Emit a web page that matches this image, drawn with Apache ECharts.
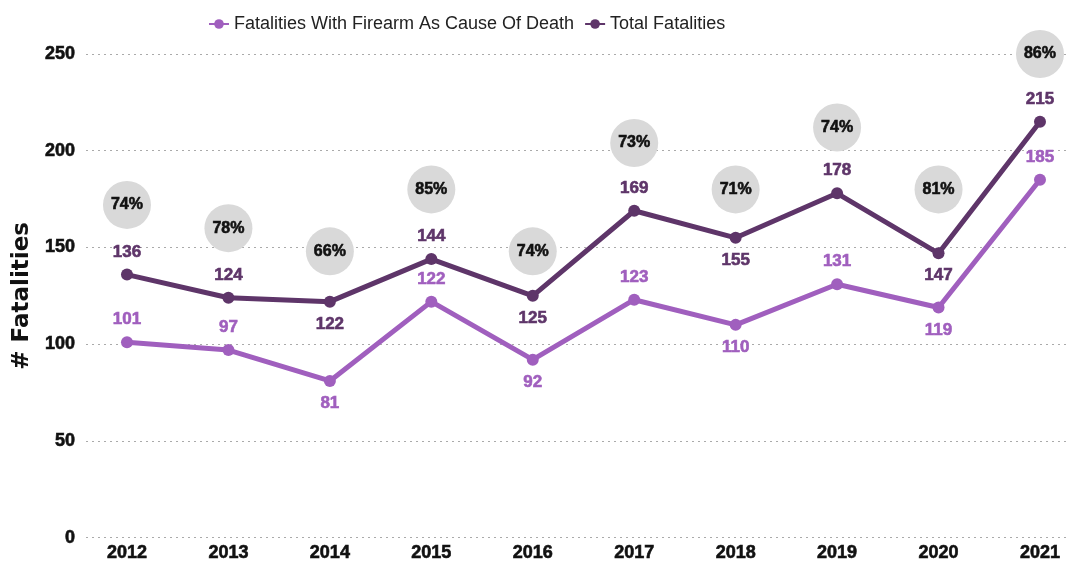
<!DOCTYPE html>
<html><head><meta charset="utf-8">
<script src="https://cdn.jsdelivr.net/npm/echarts@6/dist/echarts.min.js"></script>
<style>html,body{margin:0;padding:0;background:#fff}#c{width:1069px;height:562px}</style>
</head><body><div id="c"></div>
<script>
const years = [2012,2013,2014,2015,2016,2017,2018,2019,2020,2021];
const firearm = [101,97,81,122,92,123,110,131,119,185];
const total = [136,124,122,144,125,169,155,178,147,215];
const pctLabels = ['74%','78%','66%','85%','74%','73%','71%','74%','81%','86%'];
const pctBubbleY = [172,160,148,180,148,204,180,212,180,250];
const firearmLabelPos = ['top','top','bottom','top','bottom','top','bottom','top','bottom','top'];
const totalLabelPos = ['top','top','bottom','top','bottom','top','bottom','top','bottom','top'];

const cFire = '#a05fbe', cTot = '#5e3569';
const ls = 'Liberation Sans, Arial, sans-serif';
const dv = 'DejaVu Sans, Liberation Sans, sans-serif';
function mk(vals, pos){ return vals.map((v,i)=>({value:[years[i],v], label:{position:pos[i]}})); }
function heavy(color){ return {color:color,textBorderColor:color,textBorderWidth:0.6}; }

const chart = echarts.init(document.getElementById('c'));
chart.setOption({
  animation:false,
  textStyle:{fontFamily:ls},
  grid:{left:86,right:0,top:54,bottom:22},
  legend:{top:10,left:203,itemWidth:20,itemHeight:12,itemGap:10,
    textStyle:{fontSize:18,color:'#222',fontFamily:ls},
    data:['Fatalities With Firearm As Cause Of Death','Total Fatalities']},
  xAxis:{type:'value',min:2011.596,max:2021.286,
    axisLine:{show:false},axisTick:{show:false},splitLine:{show:false},
    axisLabel:Object.assign({customValues:years,fontSize:18,fontWeight:'bold',margin:6,fontFamily:ls,formatter:v=>String(v)},heavy('#111'))},
  yAxis:{type:'value',min:0,max:250,interval:50,
    name:'# Fatalities',nameLocation:'middle',nameGap:46,nameRotate:90,
    nameTextStyle:{fontSize:23,fontWeight:'bold',color:'#111',fontFamily:dv},
    axisLabel:Object.assign({fontSize:18,fontWeight:'bold',margin:11,fontFamily:ls},heavy('#111')),
    splitLine:{lineStyle:{type:[2,4],color:'#aaa',width:1}},
    axisLine:{show:false},axisTick:{show:false}},
  series:[
    {name:'pct',type:'scatter',symbolSize:48,z:1,
      itemStyle:{color:'#d9d9d9',opacity:1},
      data:pctBubbleY.map((v,i)=>[years[i],v]),
      label:Object.assign({show:true,position:'inside',formatter:p=>pctLabels[p.dataIndex],fontSize:16,fontWeight:'bold',fontFamily:ls},heavy('#111'))},
    {name:'Fatalities With Firearm As Cause Of Death',type:'line',z:3,
      data:mk(firearm,firearmLabelPos),symbol:'circle',symbolSize:12,
      lineStyle:{width:5,color:cFire},itemStyle:{color:cFire},
      label:Object.assign({show:true,fontSize:17,fontWeight:'bold',distance:8,fontFamily:ls,formatter:p=>p.value[1]},heavy(cFire))},
    {name:'Total Fatalities',type:'line',z:3,
      data:mk(total,totalLabelPos),symbol:'circle',symbolSize:12,
      lineStyle:{width:5,color:cTot},itemStyle:{color:cTot},
      label:Object.assign({show:true,fontSize:17,fontWeight:'bold',distance:8,fontFamily:ls,formatter:p=>p.value[1]},heavy(cTot))}
  ]
});
</script></body></html>
